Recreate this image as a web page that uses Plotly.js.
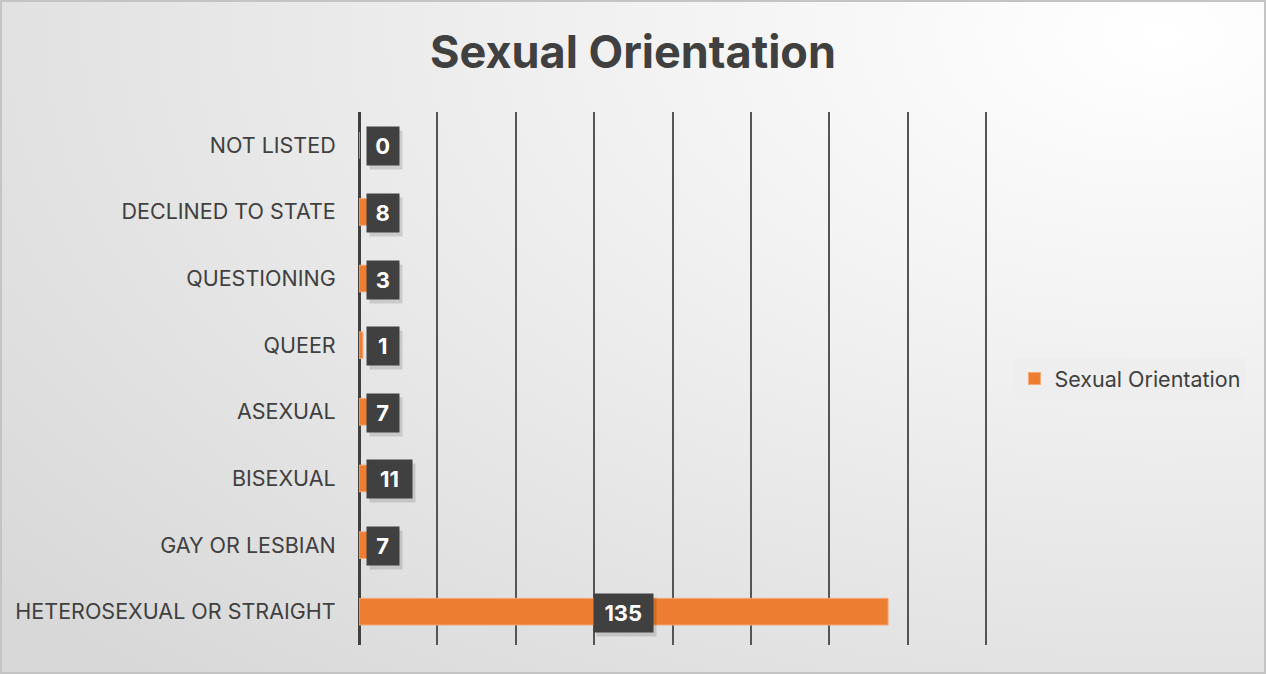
<!DOCTYPE html>
<html>
<head>
<meta charset="utf-8">
<script src="https://cdn.plot.ly/plotly-3.0.1.min.js"></script>
<style>
  html, body { margin: 0; padding: 0; }
  #wrap {
    width: 1266px; height: 674px; box-sizing: border-box;
    border: 2px solid #c4c4c4;
    background: radial-gradient(ellipse 120% 130% at 92% 5%, #ffffff 0%, #f2f2f2 35%, #e2e2e2 75%, #d8d8d8 100%);
  }
  #chart { width: 1262px; height: 670px; }
</style>
</head>
<body>
<div id="wrap"><div id="chart"></div></div>
<script>
const categories = ["HETEROSEXUAL OR STRAIGHT", "GAY OR LESBIAN", "BISEXUAL", "ASEXUAL", "QUEER", "QUESTIONING", "DECLINED TO STATE", "NOT LISTED"];
const values = [135, 7, 11, 7, 1, 3, 8, 0];
const seriesName = "Sexual Orientation";
const chartTitle = "Sexual Orientation";
const xMax = 160;
const xStep = 20;

const FONT = "Inter, Roboto, Liberation Sans, sans-serif";

const trace = {
  type: "bar",
  orientation: "h",
  x: values,
  y: categories,
  name: seriesName,
  marker: { color: "#ED7D31", line: { color: "#F4A877", width: 1 } },
  hoverinfo: "x+y",
  showlegend: true
};

const rangeMax = xMax + 0.5;
const plotW = 629;
const pxPerUnit = plotW / rangeMax;
const annotations = [];
values.forEach((v, i) => {
  const txt = String(v);
  const w = 18 + 13.5 * txt.length;
  const fitsCentered = v * pxPerUnit / 2 > w / 2 + 8;
  const base = {
    x: fitsCentered ? v / 2 : 0,
    y: categories[i],
    xref: "x", yref: "y",
    showarrow: false,
    xanchor: fitsCentered ? "center" : "left",
    width: w - 4,
    height: 34,
    borderpad: 2
  };
  annotations.push(Object.assign({}, base, {
    text: "",
    xshift: (fitsCentered ? 0 : 7) + 3,
    yshift: -5,
    bgcolor: "rgba(0,0,0,0.13)"
  }));
  annotations.push(Object.assign({}, base, {
    text: "<b>" + txt + "</b>",
    xshift: fitsCentered ? 0 : 7,
    yshift: -1,
    bgcolor: "#404040",
    font: { family: FONT, size: 22, color: "#ffffff" }
  }));
});

const layout = {
  width: 1262, height: 670,
  paper_bgcolor: "rgba(0,0,0,0)",
  plot_bgcolor: "rgba(0,0,0,0)",
  margin: { l: 357, r: 276, t: 110, b: 27, pad: 0 },
  title: {
    text: "<b>" + chartTitle + "</b>",
    x: 0.5, xref: "container", xanchor: "center",
    y: 0.925, yref: "container", yanchor: "middle",
    font: { family: FONT, size: 45, color: "#404040" }
  },
  xaxis: {
    range: [0, rangeMax],
    dtick: xStep, tick0: 0,
    showgrid: true, gridcolor: "#555555", gridwidth: 2,
    zeroline: true, zerolinecolor: "#404040", zerolinewidth: 3,
    showticklabels: false, ticks: "",
    fixedrange: true
  },
  yaxis: {
    type: "category",
    categoryorder: "array", categoryarray: categories,
    showgrid: false, zeroline: false, showline: false,
    ticks: "outside", ticklen: 18, tickcolor: "rgba(0,0,0,0)",
    tickfont: { family: FONT, size: 21.5, color: "#404040" },
    fixedrange: true
  },
  bargap: 0.6,
  showlegend: true,
  legend: {
    x: 1.042, xanchor: "left",
    y: 0.5, yanchor: "middle",
    bgcolor: "rgba(238,238,238,0.8)",
    font: { family: FONT, size: 21.5, color: "#404040" },
    itemwidth: 30
  },
  annotations: annotations
};

Plotly.newPlot("chart", [trace], layout, { displayModeBar: false, staticPlot: true });
</script>
</body>
</html>
